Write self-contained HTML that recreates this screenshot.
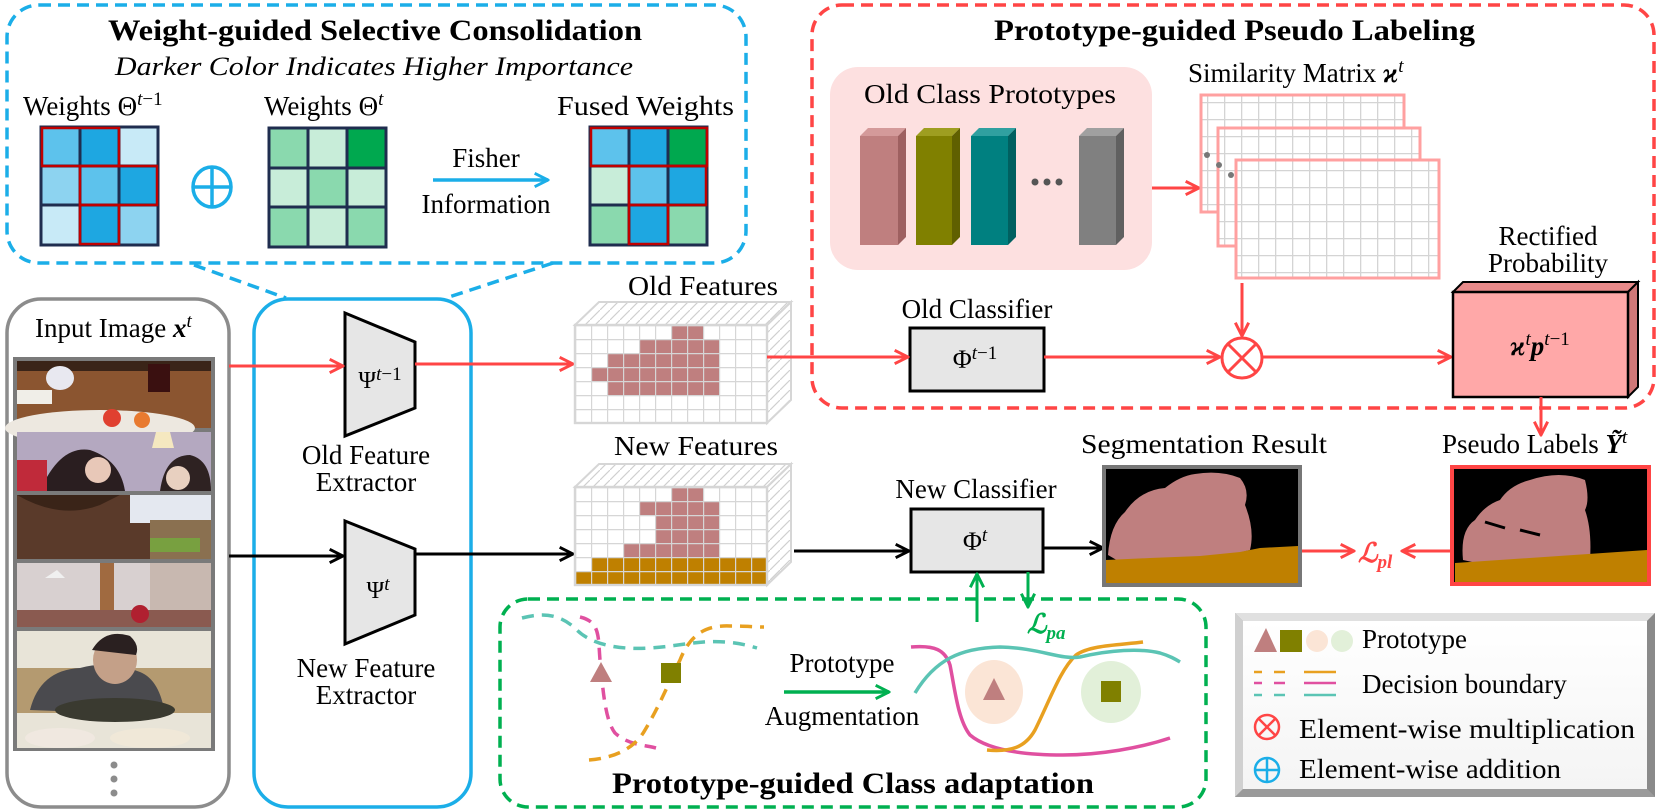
<!DOCTYPE html>
<html><head><meta charset="utf-8"><style>
html,body{margin:0;padding:0;background:#fff;}
svg{display:block;}
text{font-family:"Liberation Serif","Times New Roman",serif;fill:#000;}
</style></head><body>
<svg width="1662" height="812" viewBox="0 0 1662 812" xmlns="http://www.w3.org/2000/svg" font-family="Liberation Serif, serif">
<defs>
<marker id="aR" viewBox="0 0 12 12" refX="11" refY="6" markerWidth="16" markerHeight="16" markerUnits="userSpaceOnUse" orient="auto"><path d="M1,1 L11,6 L1,11" fill="none" stroke="#FF4545" stroke-width="2.2"/></marker>
<marker id="aK" viewBox="0 0 12 12" refX="11" refY="6" markerWidth="16" markerHeight="16" markerUnits="userSpaceOnUse" orient="auto"><path d="M1,1 L11,6 L1,11" fill="none" stroke="#000" stroke-width="2.2"/></marker>
<marker id="aG" viewBox="0 0 12 12" refX="11" refY="6" markerWidth="16" markerHeight="16" markerUnits="userSpaceOnUse" orient="auto"><path d="M1,1 L11,6 L1,11" fill="none" stroke="#00B050" stroke-width="2.2"/></marker>
<marker id="aB" viewBox="0 0 12 12" refX="11" refY="6" markerWidth="16" markerHeight="16" markerUnits="userSpaceOnUse" orient="auto"><path d="M1,1 L11,6 L1,11" fill="none" stroke="#1BAEE8" stroke-width="2.2"/></marker>
<pattern id="gO" x="575" y="325" width="16" height="14" patternUnits="userSpaceOnUse"><path d="M0,0 V14 M0,0 H16" stroke="#D6D6D6" stroke-width="2.4" fill="none"/></pattern>
<pattern id="gN" x="575" y="487" width="16" height="14" patternUnits="userSpaceOnUse"><path d="M0,0 V14 M0,0 H16" stroke="#D6D6D6" stroke-width="2.4" fill="none"/></pattern>
<pattern id="gS" x="0" y="0" width="17" height="17" patternUnits="userSpaceOnUse"><path d="M0,0 V17 M0,0 H17" stroke="#D4D4D4" stroke-width="2.6" fill="none"/></pattern>
<pattern id="hat" x="0" y="0" width="10" height="10" patternUnits="userSpaceOnUse"><path d="M0,10 L10,0" stroke="#D0D0D0" stroke-width="1.2"/></pattern>
<linearGradient id="legG" x1="0" y1="0" x2="0" y2="1"><stop offset="0" stop-color="#fff"/><stop offset="1" stop-color="#f4f4f4"/></linearGradient>
</defs>

<rect x="7" y="5" width="739" height="258" rx="32" fill="none" stroke="#1BAEE8" stroke-width="3.5" stroke-dasharray="12,7"/>
<text x="108" y="40" font-size="30" font-weight="bold" textLength="534" lengthAdjust="spacingAndGlyphs">Weight-guided Selective Consolidation</text>
<text x="115" y="75" font-size="26" font-style="italic" textLength="518" lengthAdjust="spacingAndGlyphs">Darker Color Indicates Higher Importance</text>
<text x="23" y="115" font-size="27">Weights Θ<tspan dy="-10" font-size="19" font-style="italic">t</tspan><tspan font-size="19">−1</tspan></text>
<text x="264" y="115" font-size="27">Weights Θ<tspan dy="-10" font-size="19" font-style="italic">t</tspan></text>
<text x="557" y="115" font-size="27" textLength="177" lengthAdjust="spacingAndGlyphs">Fused Weights</text>

<g stroke="#1F2D4F" stroke-width="3">
<rect x="41" y="127" width="39" height="39" fill="#5DC2EC"/><rect x="80" y="127" width="39" height="39" fill="#1EA7E1"/><rect x="119" y="127" width="39" height="39" fill="#C8EAF7"/>
<rect x="41" y="166" width="39" height="39" fill="#8DD3F0"/><rect x="80" y="166" width="39" height="39" fill="#5DC2EC"/><rect x="119" y="166" width="39" height="39" fill="#1EA7E1"/>
<rect x="41" y="205" width="39" height="40" fill="#C8EAF7"/><rect x="80" y="205" width="39" height="40" fill="#1EA7E1"/><rect x="119" y="205" width="39" height="40" fill="#8DD3F0"/>
</g>
<g fill="none" stroke="#C00000" stroke-width="2.5">
<rect x="42" y="128" width="77" height="38"/><rect x="80" y="166" width="77" height="39"/><rect x="80" y="205" width="39" height="39"/>
</g>
<g stroke="#1BAEE8" stroke-width="3.5" fill="none"><ellipse cx="212" cy="187" rx="19" ry="20"/><path d="M193,187 H231 M212,167 V207"/></g>
<g stroke="#1F2D4F" stroke-width="3">
<rect x="269" y="128" width="39" height="40" fill="#8AD9AE"/><rect x="308" y="128" width="39" height="40" fill="#C8EDD9"/><rect x="347" y="128" width="39" height="40" fill="#00A84F"/>
<rect x="269" y="168" width="39" height="39" fill="#C8EDD9"/><rect x="308" y="168" width="39" height="39" fill="#8AD9AE"/><rect x="347" y="168" width="39" height="39" fill="#C8EDD9"/>
<rect x="269" y="207" width="39" height="40" fill="#8AD9AE"/><rect x="308" y="207" width="39" height="40" fill="#C8EDD9"/><rect x="347" y="207" width="39" height="40" fill="#8AD9AE"/>
</g>
<line x1="433" y1="180" x2="548" y2="180" stroke="#1BAEE8" stroke-width="3.5" marker-end="url(#aB)"/>
<text x="486" y="167" font-size="27" text-anchor="middle">Fisher</text>
<text x="486" y="213" font-size="27" text-anchor="middle">Information</text>
<g stroke="#1F2D4F" stroke-width="3">
<rect x="590" y="127" width="39" height="39" fill="#5DC2EC"/><rect x="629" y="127" width="39" height="39" fill="#1EA7E1"/><rect x="668" y="127" width="39" height="39" fill="#00A84F"/>
<rect x="590" y="166" width="39" height="39" fill="#C8EDD9"/><rect x="629" y="166" width="39" height="39" fill="#5DC2EC"/><rect x="668" y="166" width="39" height="39" fill="#1EA7E1"/>
<rect x="590" y="205" width="39" height="40" fill="#8AD9AE"/><rect x="629" y="205" width="39" height="40" fill="#1EA7E1"/><rect x="668" y="205" width="39" height="40" fill="#8AD9AE"/>
</g>
<g fill="none" stroke="#C00000" stroke-width="2.5">
<rect x="591" y="128" width="116" height="38"/><rect x="629" y="166" width="77" height="39"/><rect x="629" y="205" width="39" height="39"/>
</g>
<g stroke="#1BAEE8" stroke-width="3.5" stroke-dasharray="12,7"><line x1="194" y1="265" x2="286" y2="298"/><line x1="553" y1="263" x2="446" y2="298"/></g>

<rect x="7" y="299" width="222" height="508" rx="34" fill="#fff" stroke="#8C8C8C" stroke-width="3.5"/>
<text x="35" y="337" font-size="27">Input Image <tspan font-weight="bold" font-style="italic">x</tspan><tspan dy="-10" font-size="19" font-style="italic">t</tspan></text>
<rect x="13" y="357" width="202" height="394" fill="#7A7A7A"/>
<rect x="17" y="361" width="194" height="67" fill="#8B5530"/>
<rect x="17" y="361" width="194" height="10" fill="#3A2418"/>
<ellipse cx="100" cy="428" rx="95" ry="18" fill="#EDE8E0"/>
<ellipse cx="60" cy="378" rx="14" ry="12" fill="#E8E8F0"/>
<rect x="148" y="364" width="22" height="28" fill="#3A1010"/>
<circle cx="112" cy="418" r="9" fill="#E04030"/><circle cx="142" cy="420" r="8" fill="#E87A30"/>
<rect x="17" y="390" width="35" height="14" fill="#F0EEE8"/>
<rect x="17" y="432" width="194" height="59" fill="#B4A8C0"/>
<path d="M40,491 Q60,445 90,450 Q120,460 125,491 Z" fill="#2A1E20"/>
<path d="M160,491 Q165,455 190,455 Q211,460 211,491 Z" fill="#2E2222"/>
<rect x="17" y="460" width="30" height="31" fill="#C02A3A"/>
<circle cx="98" cy="470" r="13" fill="#E8C8B8"/><circle cx="178" cy="478" r="12" fill="#E8D0C0"/>
<path d="M152,448 L174,448 L170,432 L156,432 Z" fill="#F5E8C0"/>
<rect x="17" y="495" width="194" height="64" fill="#5A3A2A"/>
<rect x="130" y="495" width="81" height="28" fill="#E4E8F0"/>
<rect x="150" y="520" width="61" height="39" fill="#8A7050"/>
<rect x="150" y="538" width="50" height="14" fill="#78A040"/>
<path d="M17,495 Q60,520 100,505 L120,495 Z" fill="#3A2418"/>
<rect x="17" y="563" width="194" height="64" fill="#D8D0D0"/>
<rect x="100" y="563" width="14" height="64" fill="#A06A40"/>
<rect x="150" y="563" width="61" height="64" fill="#C8B8B0"/>
<rect x="17" y="610" width="194" height="17" fill="#8A5A50"/>
<path d="M45,578 L65,578 L57,570 Z" fill="#F0F0F0"/>
<circle cx="140" cy="614" r="9" fill="#B02030"/>
<rect x="17" y="631" width="194" height="117" fill="#E8E4D8"/>
<rect x="17" y="668" width="194" height="45" fill="#B49A70"/>
<path d="M30,710 Q40,670 80,668 Q110,660 140,672 Q160,680 165,715 Z" fill="#4A4A4E"/>
<ellipse cx="115" cy="660" rx="22" ry="24" fill="#C4A088"/>
<path d="M92,650 Q105,628 130,636 Q140,645 136,655 Z" fill="#2A2020"/>
<ellipse cx="115" cy="710" rx="60" ry="12" fill="#3A3A30"/>
<ellipse cx="60" cy="738" rx="35" ry="10" fill="#F0E8E0"/><ellipse cx="150" cy="738" rx="40" ry="10" fill="#F0E8D8"/>
<circle cx="114" cy="765" r="3.5" fill="#8C8C8C"/><circle cx="114" cy="779" r="3.5" fill="#8C8C8C"/><circle cx="114" cy="793" r="3.5" fill="#8C8C8C"/>

<rect x="254" y="299" width="217" height="508" rx="34" fill="none" stroke="#1BAEE8" stroke-width="3.5"/>
<path d="M345,313 L415,342 L415,408 L345,436 Z" fill="#E6E6E6" stroke="#000" stroke-width="3"/>
<text x="380" y="388" font-size="24" text-anchor="middle">Ψ<tspan dy="-8" font-size="19" font-style="italic">t</tspan><tspan font-size="19">−1</tspan></text>
<text x="366" y="464" font-size="27" text-anchor="middle">Old Feature</text>
<text x="366" y="491" font-size="27" text-anchor="middle">Extractor</text>
<path d="M345,521 L415,549 L415,615 L345,644 Z" fill="#E6E6E6" stroke="#000" stroke-width="3"/>
<text x="378" y="598" font-size="24" text-anchor="middle">Ψ<tspan dy="-8" font-size="19" font-style="italic">t</tspan></text>
<text x="366" y="677" font-size="27" text-anchor="middle">New Feature</text>
<text x="366" y="704" font-size="27" text-anchor="middle">Extractor</text>

<line x1="229" y1="366" x2="343" y2="366" stroke="#FF4545" stroke-width="3" marker-end="url(#aR)"/>
<line x1="415" y1="364" x2="573" y2="364" stroke="#FF4545" stroke-width="3" marker-end="url(#aR)"/>
<line x1="229" y1="556" x2="343" y2="556" stroke="#000" stroke-width="3" marker-end="url(#aK)"/>
<line x1="415" y1="554" x2="573" y2="554" stroke="#000" stroke-width="3" marker-end="url(#aK)"/>

<text x="628" y="295" font-size="27" textLength="150" lengthAdjust="spacingAndGlyphs">Old Features</text>
<path d="M575,325 L599,302 L791,302 L767,325 Z" fill="url(#hat)" stroke="#D6D6D6" stroke-width="2"/>
<path d="M767,325 L791,302 L791,400 L767,423 Z" fill="url(#hat)" stroke="#D6D6D6" stroke-width="2"/>
<rect x="575" y="325" width="192" height="98" fill="#fff"/>
<g fill="#BF7F7F">
<rect x="671" y="325" width="32" height="14"/><rect x="639" y="339" width="80" height="14"/><rect x="607" y="353" width="112" height="14"/><rect x="591" y="367" width="128" height="14"/><rect x="607" y="381" width="112" height="14"/>
</g>
<rect x="575" y="325" width="192" height="98" fill="url(#gO)" stroke="#D6D6D6" stroke-width="2.4"/>

<text x="614" y="455" font-size="27" textLength="164" lengthAdjust="spacingAndGlyphs">New Features</text>
<path d="M575,487 L599,464 L791,464 L767,487 Z" fill="url(#hat)" stroke="#D6D6D6" stroke-width="2"/>
<path d="M767,487 L791,464 L791,562 L767,585 Z" fill="url(#hat)" stroke="#D6D6D6" stroke-width="2"/>
<rect x="575" y="487" width="192" height="98" fill="#fff"/>
<g fill="#BF7F7F">
<rect x="671" y="487" width="32" height="14"/><rect x="639" y="501" width="80" height="14"/><rect x="655" y="515" width="64" height="14"/><rect x="655" y="529" width="64" height="14"/><rect x="623" y="543" width="96" height="14"/>
</g>
<g fill="#BF8000"><rect x="591" y="557" width="176" height="14"/><rect x="575" y="571" width="192" height="14"/></g>
<rect x="575" y="487" width="192" height="98" fill="url(#gN)" stroke="#D6D6D6" stroke-width="2.4"/>

<rect x="812" y="5" width="842" height="403" rx="30" fill="none" stroke="#FF4545" stroke-width="3.5" stroke-dasharray="12,7"/>
<text x="994" y="40" font-size="30" font-weight="bold" textLength="481" lengthAdjust="spacingAndGlyphs">Prototype-guided Pseudo Labeling</text>
<rect x="830" y="67" width="322" height="203" rx="28" fill="#FDE0E0"/>
<text x="864" y="103" font-size="27" textLength="252" lengthAdjust="spacingAndGlyphs">Old Class Prototypes</text>
<g>
<path d="M860,136 L868,128 L906,128 L898,136 Z" fill="#D49A9A"/><rect x="860" y="136" width="38" height="109" fill="#BF7F7F"/><path d="M898,136 L906,128 L906,237 L898,245 Z" fill="#9E6060"/>
<path d="M916,136 L924,128 L960,128 L952,136 Z" fill="#9E9E20"/><rect x="916" y="136" width="36" height="109" fill="#808000"/><path d="M952,136 L960,128 L960,237 L952,245 Z" fill="#606000"/>
<path d="M971,136 L979,128 L1016,128 L1008,136 Z" fill="#30A0A0"/><rect x="971" y="136" width="37" height="109" fill="#008080"/><path d="M1008,136 L1016,128 L1016,237 L1008,245 Z" fill="#006060"/>
<path d="M1079,136 L1087,128 L1124,128 L1116,136 Z" fill="#A0A0A0"/><rect x="1079" y="136" width="37" height="109" fill="#808080"/><path d="M1116,136 L1124,128 L1124,237 L1116,245 Z" fill="#606060"/>
</g>
<circle cx="1035" cy="182" r="3.5" fill="#555"/><circle cx="1047" cy="182" r="3.5" fill="#555"/><circle cx="1059" cy="182" r="3.5" fill="#555"/>
<line x1="1152" y1="188" x2="1199" y2="188" stroke="#FF4545" stroke-width="3" marker-end="url(#aR)"/>
<text x="1188" y="82" font-size="27">Similarity Matrix <tspan font-weight="bold" font-style="italic">ϰ</tspan><tspan dy="-10" font-size="19" font-style="italic">t</tspan></text>
<rect x="1201" y="95" width="203" height="117" fill="#fff"/><rect x="1201" y="95" width="203" height="117" fill="url(#gS)" stroke="#FFA0A0" stroke-width="3"/>
<rect x="1218" y="128" width="202" height="118" fill="#fff"/><rect x="1218" y="128" width="202" height="118" fill="url(#gS)" stroke="#FFA0A0" stroke-width="3"/>
<rect x="1236" y="160" width="203" height="118" fill="#fff"/><rect x="1236" y="160" width="203" height="118" fill="url(#gS)" stroke="#FFA0A0" stroke-width="3"/>
<circle cx="1207" cy="155" r="3" fill="#777"/><circle cx="1219" cy="165" r="3" fill="#777"/><circle cx="1231" cy="175" r="3" fill="#777"/>
<line x1="1242" y1="283" x2="1242" y2="336" stroke="#FF4545" stroke-width="3" marker-end="url(#aR)"/>
<g stroke="#FF4545" stroke-width="3" fill="#fff"><circle cx="1242" cy="358" r="20"/><path d="M1228,344 L1256,372 M1256,344 L1228,372" fill="none"/></g>
<text x="977" y="318" font-size="27" text-anchor="middle">Old Classifier</text>
<rect x="910" y="328" width="134" height="63" fill="#E6E6E6" stroke="#000" stroke-width="3"/>
<text x="975" y="368" font-size="26" text-anchor="middle">Φ<tspan dy="-9" font-size="19" font-style="italic">t</tspan><tspan font-size="19">−1</tspan></text>
<line x1="767" y1="357" x2="908" y2="357" stroke="#FF4545" stroke-width="3" marker-end="url(#aR)"/>
<line x1="1044" y1="357" x2="1220" y2="357" stroke="#FF4545" stroke-width="3" marker-end="url(#aR)"/>
<line x1="1262" y1="357" x2="1451" y2="357" stroke="#FF4545" stroke-width="3" marker-end="url(#aR)"/>
<text x="1548" y="245" font-size="27" text-anchor="middle">Rectified</text>
<text x="1548" y="272" font-size="27" text-anchor="middle">Probability</text>
<path d="M1453,292 L1463,282 L1638,282 L1628,292 Z" fill="#E88A8A" stroke="#000" stroke-width="2"/>
<path d="M1628,292 L1638,282 L1638,387 L1628,397 Z" fill="#D07878" stroke="#000" stroke-width="2"/>
<rect x="1453" y="292" width="175" height="105" fill="#FFA8A8" stroke="#000" stroke-width="2.5"/>
<text x="1540" y="355" font-size="27" text-anchor="middle" font-weight="bold" font-style="italic">ϰ<tspan dy="-10" font-size="19" font-weight="normal">t</tspan><tspan dy="10">p</tspan><tspan dy="-10" font-size="19" font-weight="normal">t</tspan><tspan font-size="19" font-weight="normal" font-style="normal">−1</tspan></text>
<line x1="1541" y1="397" x2="1541" y2="435" stroke="#FF4545" stroke-width="3" marker-end="url(#aR)"/>

<text x="976" y="498" font-size="27" text-anchor="middle">New Classifier</text>
<rect x="911" y="509" width="132" height="63" fill="#E6E6E6" stroke="#000" stroke-width="3"/>
<text x="975" y="550" font-size="26" text-anchor="middle">Φ<tspan dy="-9" font-size="19" font-style="italic">t</tspan></text>
<line x1="794" y1="551" x2="909" y2="551" stroke="#000" stroke-width="3" marker-end="url(#aK)"/>
<line x1="1043" y1="548" x2="1103" y2="548" stroke="#000" stroke-width="3" marker-end="url(#aK)"/>
<line x1="977" y1="622" x2="977" y2="574" stroke="#00B050" stroke-width="3" marker-end="url(#aG)"/>
<line x1="1028" y1="572" x2="1028" y2="607" stroke="#00B050" stroke-width="3" marker-end="url(#aG)"/>
<text x="1027" y="633" font-size="27" font-style="italic" font-weight="bold" style="fill:#00B050">ℒ<tspan dy="6" font-size="19">pa</tspan></text>

<text x="1081" y="453" font-size="27" textLength="246" lengthAdjust="spacingAndGlyphs">Segmentation Result</text>
<rect x="1104" y="467" width="196" height="118" fill="#000" stroke="#777" stroke-width="4"/>
<path d="M1108,555 Q1110,525 1125,512 Q1140,490 1165,488 Q1180,476 1195,474 Q1220,470 1240,478 Q1250,490 1245,505 Q1255,530 1250,550 L1230,555 L1200,560 L1150,562 Q1130,560 1120,562 Z" fill="#BF7F7F"/>
<path d="M1106,575 L1106,560 L1150,558 L1200,556 L1240,552 L1260,548 L1298,546 L1298,583 L1106,583 Z" fill="#BF8000"/>
<text x="1442" y="453" font-size="27">Pseudo Labels <tspan font-weight="bold" font-style="italic">Ỹ</tspan><tspan dy="-10" font-size="19" font-style="italic">t</tspan></text>
<rect x="1452" y="467" width="197" height="117" fill="#000" stroke="#FF4545" stroke-width="4"/>
<path d="M1463,560 Q1460,530 1475,520 Q1485,505 1500,500 Q1510,485 1530,480 Q1560,470 1585,480 Q1590,500 1585,510 Q1592,530 1590,560 L1560,568 L1520,570 L1500,568 Z" fill="#BF7F7F"/>
<path d="M1485,522 L1505,528" stroke="#000" stroke-width="3"/><path d="M1520,530 L1540,535" stroke="#000" stroke-width="3"/>
<path d="M1455,563 L1647,550 L1647,582 L1455,582 Z" fill="#BF8000"/>
<line x1="1302" y1="551" x2="1354" y2="551" stroke="#FF4545" stroke-width="3" marker-end="url(#aR)"/>
<line x1="1450" y1="551" x2="1402" y2="551" stroke="#FF4545" stroke-width="3" marker-end="url(#aR)"/>
<text x="1358" y="562" font-size="27" font-style="italic" font-weight="bold" style="fill:#FF4545">ℒ<tspan dy="6" font-size="19">pl</tspan></text>

<rect x="500" y="599" width="706" height="208" rx="28" fill="none" stroke="#00B050" stroke-width="3.5" stroke-dasharray="12,7"/>
<g fill="none" stroke-width="3.5" stroke-dasharray="12,8">
<path d="M522,618 C545,612 560,615 575,628 C590,645 620,650 650,648 C680,646 700,640 725,642 C740,643 750,646 757,648" stroke="#5BC4B4"/>
<path d="M580,617 C600,622 598,635 600,660 C603,690 605,720 615,733 C628,745 645,745 656,748" stroke="#E050A0"/>
<path d="M589,760 C615,758 635,748 645,730 C660,705 670,680 680,660 C690,635 705,625 730,626 C745,626 755,627 764,627" stroke="#E8A020"/>
</g>
<path d="M601,662 L612,682 L590,682 Z" fill="#BF7F7F"/>
<rect x="661" y="663" width="20" height="20" fill="#808000"/>
<text x="842" y="672" font-size="27" text-anchor="middle">Prototype</text>
<line x1="784" y1="692" x2="889" y2="692" stroke="#00B050" stroke-width="3.5" marker-end="url(#aG)"/>
<text x="842" y="725" font-size="27" text-anchor="middle">Augmentation</text>
<ellipse cx="994" cy="692" rx="29" ry="32" fill="#FBE5D6"/>
<path d="M994,678 L1005,700 L983,700 Z" fill="#BF7F7F"/>
<ellipse cx="1111" cy="692" rx="30" ry="31" fill="#E2F0D9"/>
<rect x="1101" y="681" width="20" height="21" fill="#808000"/>
<g fill="none" stroke-width="3.5">
<path d="M911,647 C935,645 945,650 950,665 C955,690 958,720 970,735 C990,752 1030,755 1063,755 C1100,755 1140,748 1170,738" stroke="#E050A0"/>
<path d="M987,750 C1010,752 1025,748 1035,730 C1050,700 1060,670 1076,655 C1090,645 1120,645 1143,642" stroke="#E8A020"/>
<path d="M915,693 C935,660 960,648 1000,647 C1040,648 1060,660 1080,657 C1110,650 1140,648 1160,653 C1170,656 1175,659 1180,662" stroke="#5BC4B4"/>
</g>
<text x="612" y="793" font-size="30" font-weight="bold" textLength="482" lengthAdjust="spacingAndGlyphs">Prototype-guided Class adaptation</text>

<rect x="1235" y="613" width="420" height="184" fill="#A8A8A8"/>
<path d="M1235,613 L1655,613 L1647,621 L1243,621 Z" fill="#E0E0E0"/>
<path d="M1235,613 L1243,621 L1243,789 L1235,797 Z" fill="#D0D0D0"/>
<path d="M1655,613 L1647,621 L1647,789 L1655,797 Z" fill="#8A8A8A"/>
<path d="M1235,797 L1243,789 L1647,789 L1655,797 Z" fill="#9A9A9A"/>
<rect x="1243" y="621" width="404" height="168" fill="url(#legG)"/>
<path d="M1266,628 L1277,652 L1254,652 Z" fill="#BF7F7F"/>
<rect x="1280" y="630" width="22" height="22" fill="#808000"/>
<circle cx="1317" cy="641" r="11" fill="#FBE5D6"/><circle cx="1342" cy="641" r="11" fill="#E2F0D9"/>
<text x="1362" y="648" font-size="27">Prototype</text>
<g stroke-width="2.5">
<path d="M1254,672 H1262 M1274,672 H1285" stroke="#E8A020"/><path d="M1304,672 H1336" stroke="#E8A020"/>
<path d="M1254,683 H1262 M1274,683 H1285" stroke="#E050A0"/><path d="M1304,683 H1336" stroke="#E050A0"/>
<path d="M1254,695 H1262 M1274,695 H1285" stroke="#5BC4B4"/><path d="M1304,695 H1336" stroke="#5BC4B4"/>
</g>
<text x="1362" y="693" font-size="27">Decision boundary</text>
<g stroke="#FF4545" stroke-width="2.5" fill="none"><circle cx="1267" cy="727" r="12"/><path d="M1258.5,718.5 L1275.5,735.5 M1275.5,718.5 L1258.5,735.5"/></g>
<text x="1299" y="738" font-size="27" textLength="336" lengthAdjust="spacingAndGlyphs">Element-wise multiplication</text>
<g stroke="#1BAEE8" stroke-width="2.5" fill="none"><circle cx="1267" cy="770" r="12"/><path d="M1255,770 H1279 M1267,758 V782"/></g>
<text x="1299" y="778" font-size="27" textLength="262" lengthAdjust="spacingAndGlyphs">Element-wise addition</text>
</svg>
</body></html>
